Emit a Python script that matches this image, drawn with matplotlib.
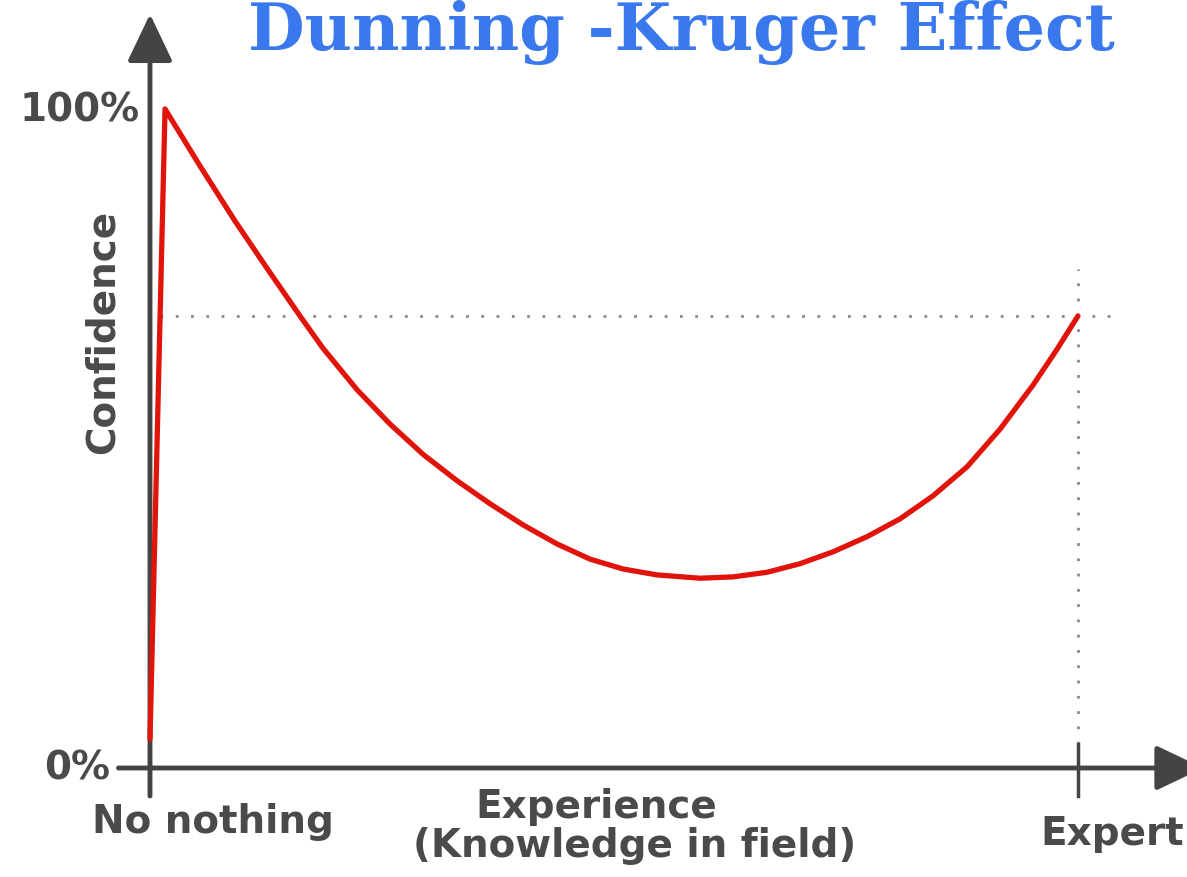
import matplotlib
matplotlib.use("Agg")
import matplotlib.pyplot as plt

# curve: experience (0 = no nothing, 1 = expert) vs confidence %
experience = [0.0, 0.0162, 0.0539, 0.0916, 0.1272, 0.1616, 0.1864, 0.2231, 0.2586,
              0.2942, 0.3308, 0.3664, 0.4019, 0.4386, 0.4741, 0.5097, 0.5463,
              0.5927, 0.6282, 0.6649, 0.7004, 0.7360, 0.7726, 0.8082, 0.8438,
              0.8804, 0.9159, 0.9515, 0.9763, 1.0]
confidence = [4.4, 100.0, 91.35, 83.0, 75.6, 68.6, 63.7, 57.4, 52.2,
              47.6, 43.6, 40.1, 36.9, 34.0, 31.7, 30.2, 29.3,
              28.8, 29.0, 29.7, 31.0, 32.8, 35.1, 37.8, 41.3,
              45.7, 51.4, 58.1, 63.3, 68.6]
expert_level = 68.6
tick_labels = {"top": "100%", "bottom": "0%"}
x_labels = ["No nothing", "Experience\n(Knowledge in field)", "Expert"]

AXIS = "#444444"
TEXT = "#4a4a4a"
RED = "#e0140a"
BLUE = "#3a78ee"
DOT = "#8a8a8a"

W, H = 1187, 878
fig = plt.figure(figsize=(W / 100, H / 100), dpi=100)
fig.patch.set_facecolor("white")
# data x 0..1 -> px 150..1078, data y 0..100 -> px 769..110
ax = fig.add_axes([150 / W, (H - 769) / H, 928 / W, 659 / H])
ax.set_xlim(0, 1)
ax.set_ylim(0, 100)
ax.axis("off")

# dotted guides
ax.plot([0.011, 1.047], [expert_level, expert_level], color=DOT, lw=2,
        linestyle=(0, (1, 4.5)), clip_on=False, zorder=1)
ax.plot([1.0, 1.0], [3.6, 75.7], color=DOT, lw=2,
        linestyle=(0, (1, 4.5)), clip_on=False, zorder=1)

# axes with arrows
ax.annotate("", xy=(0, 114.4), xytext=(0, -4.25),
            arrowprops=dict(arrowstyle="-|>,head_length=2.1,head_width=1.0",
                            mutation_scale=14, lw=3.5, color=AXIS,
                            shrinkA=0, shrinkB=0),
            annotation_clip=False, zorder=3)
ax.annotate("", xy=(1.135, 0), xytext=(-0.034, 0),
            arrowprops=dict(arrowstyle="-|>,head_length=2.1,head_width=1.0",
                            mutation_scale=14, lw=3.5, color=AXIS,
                            shrinkA=0, shrinkB=0),
            annotation_clip=False, zorder=3)
ax.plot([1.0, 1.0], [-4.25, 3.6], color=AXIS, lw=2.5, clip_on=False, zorder=3)

# the curve
ax.plot(experience, confidence, color=RED, lw=3.8, solid_capstyle="round",
        solid_joinstyle="round", clip_on=False, zorder=4)

font = dict(family="DejaVu Sans", fontweight="bold", color=TEXT, fontsize=28)
ax.text(-0.011, 100, tick_labels["top"], ha="right", va="center", **font)
ax.text(-0.043, 0, tick_labels["bottom"], ha="right", va="center", **font)
ax.text(-0.051, 66.3, "Confidence", rotation=90, ha="center", va="center", **font)
ax.text(0.068, -9.7, x_labels[0], ha="center", va="baseline", **font)
ax.text(0.481, -7.4, x_labels[1].split("\n")[0], ha="center", va="baseline", **font)
ax.text(0.522, -13.4, x_labels[1].split("\n")[1], ha="center", va="baseline", **font)
ax.text(1.037, -11.5, x_labels[2], ha="center", va="baseline", **font)

ax.text(0.573, 109.1, "Dunning -Kruger Effect", ha="center", va="baseline",
        family="DejaVu Serif", fontweight="bold", color=BLUE, fontsize=47)

fig.savefig("out.png", dpi=100, facecolor="white")
